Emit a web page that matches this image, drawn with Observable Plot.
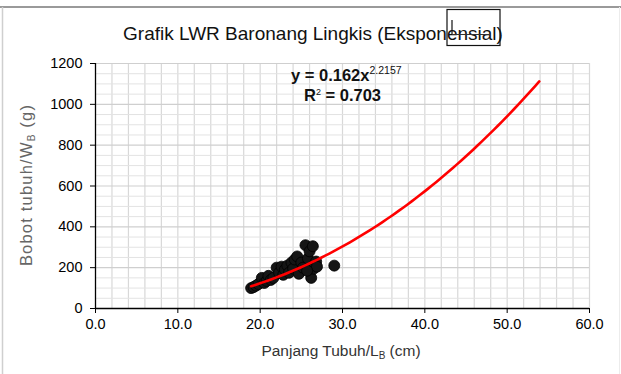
<!DOCTYPE html>
<html>
<head>
<meta charset="utf-8">
<script src="https://cdn.jsdelivr.net/npm/d3@7"></script>
<script src="https://cdn.jsdelivr.net/npm/@observablehq/plot@0.6"></script>
<style>
  html, body { margin: 0; padding: 0; background: #fff; }
  #chart { width: 621px; height: 374px; overflow: hidden; }
</style>
</head>
<body>
<div id="chart"></div>
<script>
// ---- data ----
const lengthCm = [18.9, 19.2, 19.5, 19.8, 20.2, 20.5, 20.8, 21.0, 21.3, 21.6, 22.0, 22.3, 22.6, 22.8, 23.0, 23.3, 23.5, 23.8, 24.0, 24.2, 24.5, 24.7, 25.0, 25.2, 25.5, 25.8, 26.0, 26.2, 26.4, 26.6, 26.8, 26.5, 26.9, 29.0, 25.7];
const weightG  = [100, 105, 112, 120, 150, 125, 135, 160, 140, 150, 200, 175, 205, 165, 190, 210, 175, 225, 195, 240, 255, 170, 225, 200, 310, 245, 280, 150, 305, 215, 230, 195, 205, 210, 185];
// fitted power trend y = a * x^b shown on the chart
const trendA = 0.162;
const trendB = 2.2157;
const trendRange = [18.9, 54];
const rSquared = "0.703";
const xTicks = [0, 10, 20, 30, 40, 50, 60];
const yTicks = [0, 200, 400, 600, 800, 1000, 1200];

const points = lengthCm.map((L, i) => ({L, W: weightG[i]}));
const trend = d3.range(trendRange[0], trendRange[1] + 0.001, 0.5).map(L => ({L, W: trendA * Math.pow(L, trendB)}));

const W = 621, H = 374;
const mL = 95, mR = 32, mT = 63, mB = 66;
const ff = "'Liberation Sans', Arial, sans-serif";

const chart = Plot.plot({
  width: W, height: H,
  marginLeft: mL, marginRight: mR, marginTop: mT, marginBottom: mB,
  style: {fontFamily: ff, fontSize: "14.5px", color: "#000", background: "#fff"},
  x: {domain: [0, 60]},
  y: {domain: [0, 1200]},
  marks: [
    Plot.ruleX(d3.range(2, 61, 2), {stroke: "#d8d8d8", strokeWidth: 1.2}),
    Plot.ruleY(d3.range(50, 1201, 50).filter(v => v % 200 !== 0), {stroke: "#e3e3e3", strokeWidth: 1}),
    Plot.ruleY(d3.range(200, 1201, 200), {stroke: "#cfcfcf", strokeWidth: 1.2}),
    Plot.dot(points, {x: "L", y: "W", r: 5.5, fill: "#151515", stroke: "#000", strokeWidth: 0.8}),
    Plot.line(trend, {x: "L", y: "W", stroke: "#ff0000", strokeWidth: 2.6, curve: "natural"}),
    Plot.axisX({ticks: xTicks, tickFormat: d => d.toFixed(1), tickSize: 5, tickPadding: 5, label: null, fontSize: 14.5}),
    Plot.axisY({ticks: yTicks, tickFormat: d => String(d), tickSize: 5, tickPadding: 8, label: null, fontSize: 14.5}),
    Plot.ruleX([0], {stroke: "#000", strokeWidth: 1.3}),
    Plot.ruleY([0], {stroke: "#000", strokeWidth: 1.3})
  ]
});

document.getElementById("chart").appendChild(chart);

const svg = d3.select(chart);
// frame borders
svg.append("line").attr("x1", 0).attr("x2", W).attr("y1", 7).attr("y2", 7).attr("stroke", "#9a9a9a").attr("stroke-width", 2);
svg.append("line").attr("x1", 2.5).attr("x2", 2.5).attr("y1", 7).attr("y2", H).attr("stroke", "#cfcfcf").attr("stroke-width", 1.5);
svg.append("line").attr("x1", 619.5).attr("x2", 619.5).attr("y1", 7).attr("y2", H).attr("stroke", "#ececec").attr("stroke-width", 1);

// title
svg.append("text").attr("x", 313).attr("y", 40).attr("text-anchor", "middle")
  .attr("font-family", ff).attr("font-size", 19).attr("fill", "#111")
  .text("Grafik LWR Baronang Lingkis (Eksponensial)");
// overlay box on title
svg.append("rect").attr("x", 447).attr("y", 9.5).attr("width", 53).attr("height", 36)
  .attr("fill", "none").attr("stroke", "#111").attr("stroke-width", 1.2);
svg.append("line").attr("x1", 452).attr("x2", 452).attr("y1", 20).attr("y2", 34).attr("stroke", "#111").attr("stroke-width", 1.2);
svg.append("line").attr("x1", 452).attr("x2", 490).attr("y1", 34.5).attr("y2", 34.5).attr("stroke", "#333").attr("stroke-width", 1);

// equation
const eq = svg.append("text").attr("x", 291).attr("y", 81).attr("text-anchor", "start").attr("font-family", ff).attr("font-size", 16.5).attr("font-weight", "bold").attr("fill", "#111");
eq.append("tspan").text("y = " + trendA + "x");
eq.append("tspan").attr("dy", -7).attr("font-size", 10.5).attr("font-weight", "normal").text(String(trendB));
const r2 = svg.append("text").attr("x", 304).attr("y", 101).attr("text-anchor", "start").attr("font-family", ff).attr("font-size", 16.5).attr("font-weight", "bold").attr("fill", "#111");
r2.append("tspan").text("R");
r2.append("tspan").attr("dy", -6).attr("font-size", 9).attr("font-weight", "normal").text("2");
r2.append("tspan").attr("dy", 6).text(" = " + rSquared);

// axis titles
const xt = svg.append("text").attr("x", 341).attr("y", 356).attr("text-anchor", "middle").attr("font-family", ff).attr("font-size", 15.5).attr("fill", "#333");
xt.append("tspan").text("Panjang Tubuh/L");
xt.append("tspan").attr("dy", 3).attr("font-size", 10).text("B");
xt.append("tspan").attr("dy", -3).text(" (cm)");

const yt = svg.append("text").attr("transform", "translate(32,185) rotate(-90)").attr("text-anchor", "middle").attr("font-family", ff).attr("font-size", 16.5).attr("letter-spacing", 1.2).attr("fill", "#666");
yt.append("tspan").text("Bobot tubuh/W");
yt.append("tspan").attr("dy", 3).attr("font-size", 10).text("B");
yt.append("tspan").attr("dy", -3).text(" (g)");
</script>
</body>
</html>
